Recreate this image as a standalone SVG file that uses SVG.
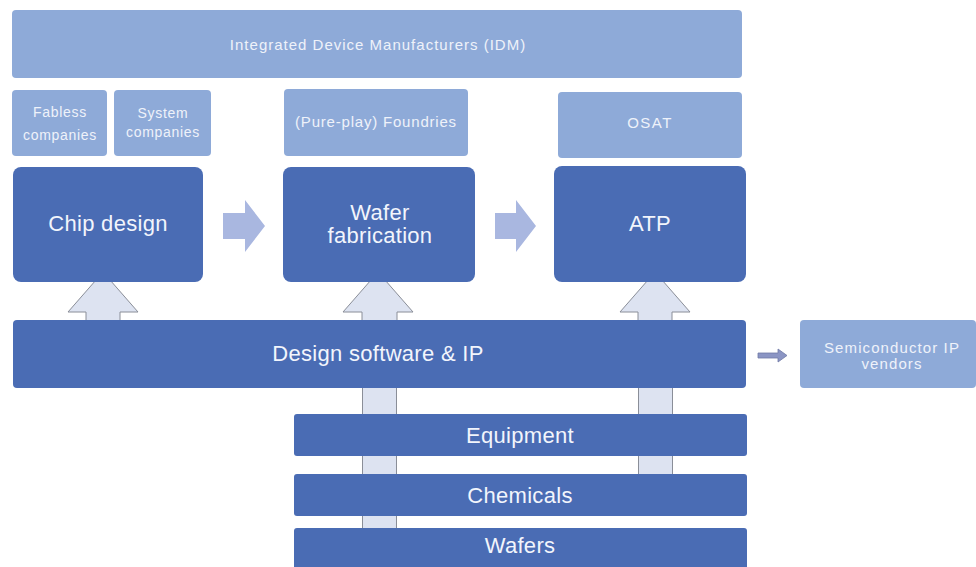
<svg xmlns="http://www.w3.org/2000/svg" width="976" height="567" viewBox="0 0 976 567">
  <style>
    .light { fill: #8eaad8; }
    .dark { fill: #4a6cb4; }
    .lt { fill: #eef2fa; font-family: "Liberation Sans", Arial, sans-serif; text-anchor: middle; }
    .dt { fill: #f2f5fc; font-family: "Liberation Sans", Arial, sans-serif; text-anchor: middle; font-size: 22px; letter-spacing: 0.3px; }
    .flow { fill: #a9b7e0; }
    .up { fill: #dde3f1; stroke: #8a8e98; stroke-width: 1; }
  </style>
  <rect width="976" height="567" fill="#ffffff"/>

  <!-- connectors drawn first so boxes sit on top -->
  <g id="connectors">
    <!-- supply shafts from lower tiers -->
    <rect class="up" x="362.5" y="380" width="34" height="150"/>
    <rect class="up" x="638.5" y="380" width="34" height="96"/>
    <!-- upward arrows into the value chain stages -->
    <path class="up" d="M86,322 V312 H68 L103,272 L138,312 H120 V322 Z"/>
    <path class="up" d="M362,322 V312 H343 L378,272 L413,312 H397 V322 Z"/>
    <path class="up" d="M638,322 V312 H620 L655,272 L690,312 H672 V322 Z"/>
    <!-- stage-to-stage flow arrows -->
    <path class="flow" d="M223,213 H245 V200 L265,226 L245,252 V239 H223 Z"/>
    <path class="flow" d="M495,213 H516 V200 L536,226 L516,252 V239 H495 Z"/>
    <!-- small arrow to IP vendors -->
    <path d="M758,353 H778 V349 L787,355.5 L778,362 V358 H758 Z" fill="#8b95c4" stroke="#6e78a6" stroke-width="0.8"/>
  </g>

  <g id="idm">
    <rect class="light" x="12" y="10" width="730" height="68" rx="4"/>
    <text class="lt" x="378" y="50" font-size="15" letter-spacing="1">Integrated Device Manufacturers (IDM)</text>
  </g>

  <g id="fabless">
    <rect class="light" x="12" y="90" width="95" height="66" rx="4"/>
    <text class="lt" x="60" y="117" font-size="14" letter-spacing="0.7">Fabless</text>
    <text class="lt" x="60" y="140" font-size="14" letter-spacing="0.7">companies</text>
  </g>

  <g id="system">
    <rect class="light" x="114" y="90" width="97" height="66" rx="4"/>
    <text class="lt" x="163" y="118" font-size="14" letter-spacing="0.7">System</text>
    <text class="lt" x="163" y="137" font-size="14" letter-spacing="0.7">companies</text>
  </g>

  <g id="foundries">
    <rect class="light" x="284" y="89" width="184" height="67" rx="4"/>
    <text class="lt" x="376" y="127" font-size="15" letter-spacing="0.8">(Pure-play) Foundries</text>
  </g>

  <g id="osat">
    <rect class="light" x="558" y="92" width="184" height="66" rx="4"/>
    <text class="lt" x="650" y="128" font-size="15" letter-spacing="1.5">OSAT</text>
  </g>

  <g id="chip-design">
    <rect class="dark" x="13" y="167" width="190" height="115" rx="8"/>
    <text class="dt" x="108" y="231">Chip design</text>
  </g>

  <g id="wafer-fab">
    <rect class="dark" x="283" y="167" width="192" height="115" rx="8"/>
    <text class="dt" x="380" y="220">Wafer</text>
    <text class="dt" x="380" y="243">fabrication</text>
  </g>

  <g id="atp">
    <rect class="dark" x="554" y="166" width="192" height="116" rx="8"/>
    <text class="dt" x="650" y="231" letter-spacing="1">ATP</text>
  </g>

  <g id="design-software">
    <rect class="dark" x="13" y="320" width="733" height="68" rx="4"/>
    <text class="dt" x="378" y="361">Design software &amp; IP</text>
  </g>

  <g id="ip-vendors">
    <rect class="light" x="800" y="320" width="176" height="68" rx="4"/>
    <text class="lt" x="892" y="353" font-size="15" letter-spacing="1.1">Semiconductor IP</text>
    <text class="lt" x="892" y="369" font-size="15" letter-spacing="1.1">vendors</text>
  </g>

  <g id="equipment">
    <rect class="dark" x="294" y="414" width="453" height="42" rx="3"/>
    <text class="dt" x="520" y="443">Equipment</text>
  </g>

  <g id="chemicals">
    <rect class="dark" x="294" y="474" width="453" height="42" rx="3"/>
    <text class="dt" x="520" y="503">Chemicals</text>
  </g>

  <g id="wafers">
    <rect class="dark" x="294" y="528" width="453" height="42" rx="3"/>
    <text class="dt" x="520" y="553">Wafers</text>
  </g>
</svg>
